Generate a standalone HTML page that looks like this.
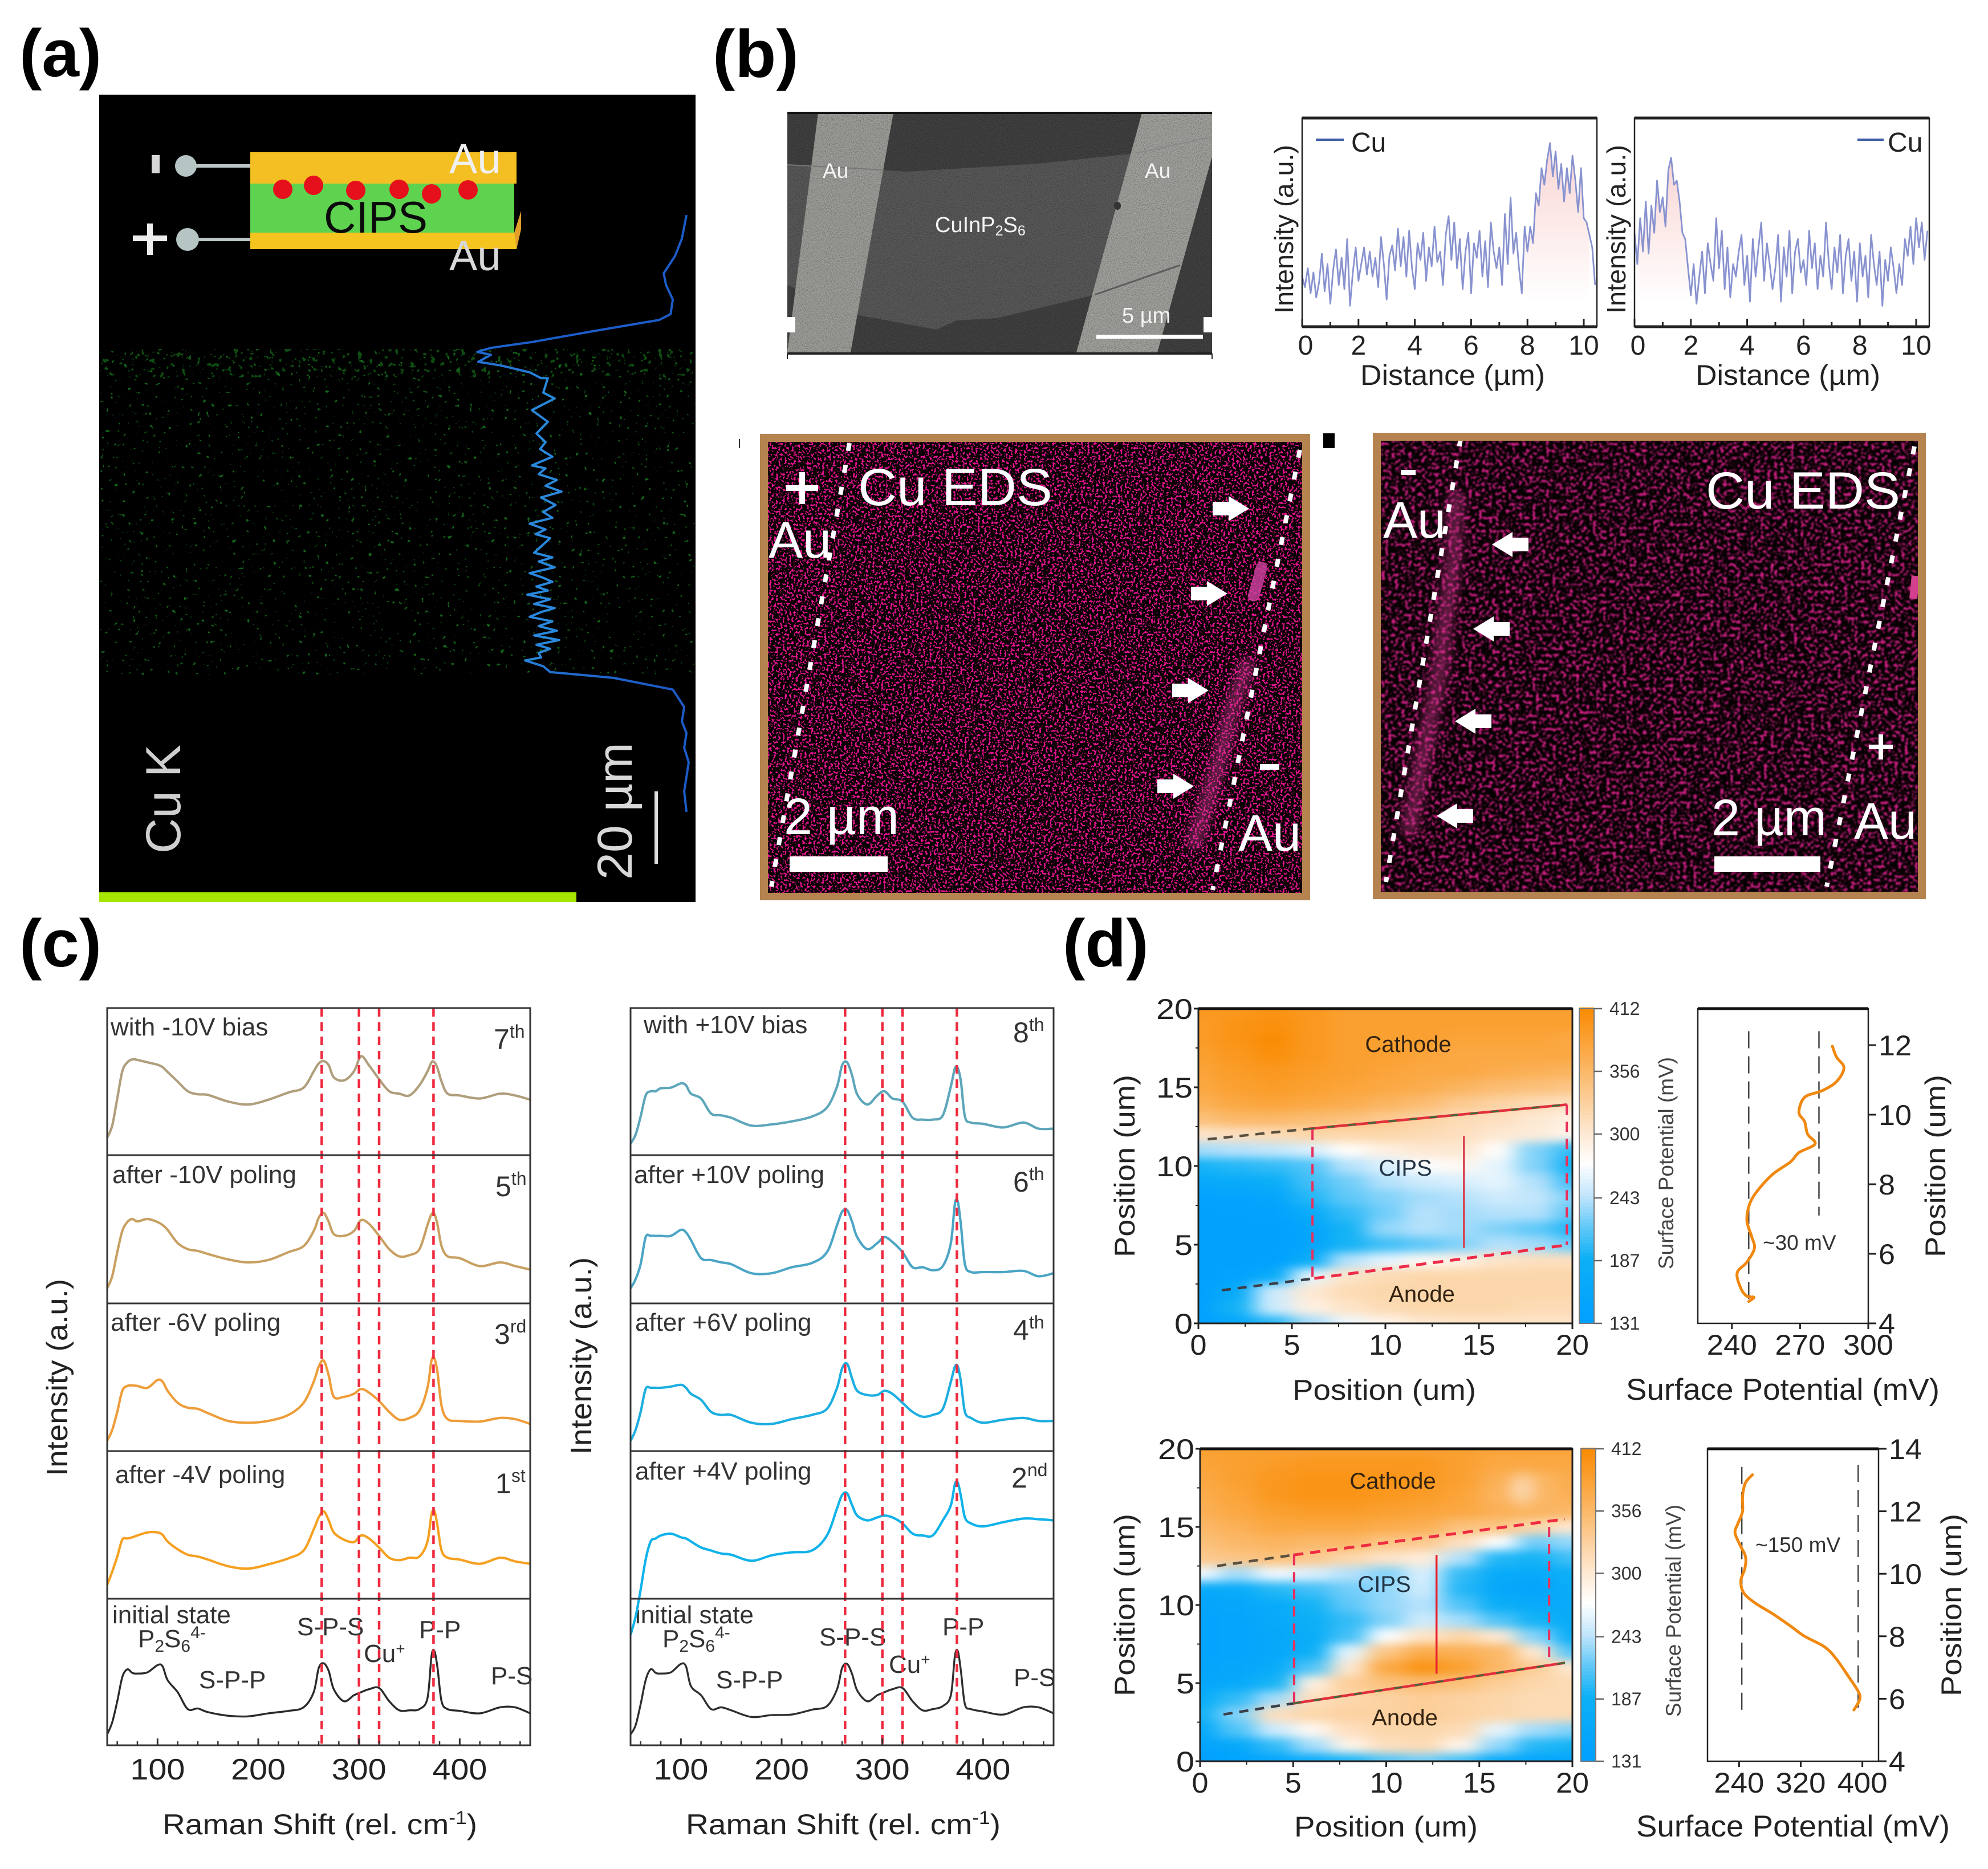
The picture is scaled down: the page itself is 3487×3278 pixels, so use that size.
<!DOCTYPE html>
<html lang="en">
<head>
<meta charset="utf-8">
<title>CIPS copper migration figure</title>
<style>
html,body{margin:0;padding:0;background:#fff;}
svg{display:block;font-family:"Liberation Sans",sans-serif;}
</style>
</head>
<body>
<svg id="fig" xmlns="http://www.w3.org/2000/svg" width="3487" height="3278" viewBox="0 0 3487 3278">
<defs>
  <filter id="greenNoise" x="0" y="0" width="1" height="1" color-interpolation-filters="sRGB">
    <feTurbulence type="fractalNoise" baseFrequency="0.13" numOctaves="2" seed="5"/>
    <feColorMatrix values="0 0 0 0 0.08  0 0 0 0 0.4  0 0 0 0 0.1  16 0 0 0 -11.4"/>
  </filter>
  <filter id="greenNoiseDense" x="0" y="0" width="1" height="1" color-interpolation-filters="sRGB">
    <feTurbulence type="fractalNoise" baseFrequency="0.11" numOctaves="2" seed="9"/>
    <feColorMatrix values="0 0 0 0 0.1  0 0 0 0 0.5  0 0 0 0 0.12  14 0 0 0 -8.9"/>
  </filter>
  <filter id="pinkNoiseSharp" x="0" y="0" width="1" height="1" color-interpolation-filters="sRGB">
    <feTurbulence type="fractalNoise" baseFrequency="0.26" numOctaves="2" seed="3"/>
    <feColorMatrix values="0 0 0 0 0.9  0 0 0 0 0.08  0 0 0 0 0.56  14 0 0 0 -7.55"/>
  </filter>
  <filter id="pinkNoiseSoft" x="0" y="0" width="1" height="1" color-interpolation-filters="sRGB">
    <feTurbulence type="fractalNoise" baseFrequency="0.17" numOctaves="2" seed="11"/>
    <feColorMatrix values="0 0 0 0 0.82  0 0 0 0 0.12  0 0 0 0 0.52  7 0 0 0 -3.65"/>
    <feGaussianBlur stdDeviation="1.2"/>
  </filter>
  <filter id="semNoise" x="0" y="0" width="1" height="1" color-interpolation-filters="sRGB">
    <feTurbulence type="fractalNoise" baseFrequency="0.55" numOctaves="2" seed="7"/>
    <feColorMatrix values="0 0 0 0 0  0 0 0 0 0  0 0 0 0 0  2.2 0 0 0 -0.9"/>
  </filter>
  <filter id="band" x="-30%" y="-10%" width="160%" height="120%"><feGaussianBlur stdDeviation="9"/></filter>
  <filter id="heatBlur" filterUnits="userSpaceOnUse" x="2000" y="1700" width="900" height="1450" color-interpolation-filters="sRGB"><feGaussianBlur stdDeviation="19 8"/></filter>
  <filter id="spotBlur" x="-60%" y="-60%" width="220%" height="220%"><feGaussianBlur stdDeviation="12"/></filter>
  <linearGradient id="profileStroke" gradientUnits="userSpaceOnUse" x1="0" y1="600" x2="0" y2="1200">
    <stop offset="0" stop-color="#1c5cc8"/><stop offset="0.12" stop-color="#2a88dc"/><stop offset="0.92" stop-color="#2a88dc"/><stop offset="1" stop-color="#1c5cc8"/>
  </linearGradient>
  <linearGradient id="peakFill" x1="0" y1="0" x2="0" y2="1">
    <stop offset="0" stop-color="#f6c6c6"/><stop offset="0.55" stop-color="#fbe6e4"/><stop offset="1" stop-color="#ffffff"/>
  </linearGradient>
  <clipPath id="clipA"><rect x="174" y="166" width="1046" height="1416"/></clipPath>
  <clipPath id="clipRamanL"><rect x="188" y="1768" width="742" height="1293"/></clipPath>
  <clipPath id="clipRamanR"><rect x="1106" y="1768" width="742" height="1293"/></clipPath>
  <clipPath id="clipHeatTop"><rect x="2102" y="1769" width="656" height="552"/></clipPath>
  <clipPath id="clipHeatBottom"><rect x="2105" y="2541" width="653" height="548"/></clipPath>
  <clipPath id="clipEds1"><rect x="1347" y="775" width="937" height="791"/></clipPath>
  <clipPath id="clipEds2"><rect x="2422" y="773" width="942" height="791"/></clipPath>
</defs>

<rect width="3487" height="3278" fill="#ffffff"/>

<!-- panel letters -->
<g font-weight="700" font-size="118" fill="#000">
  <text x="34" y="134">(a)</text>
  <text x="1250" y="135">(b)</text>
  <text x="34" y="1695">(c)</text>
  <text x="1864" y="1695">(d)</text>
</g>

<!-- panel a -->
<g id="panelA">
  <rect x="174" y="166" width="1046" height="1416" fill="#000"/>
  <rect x="176" y="612" width="1042" height="572" filter="url(#greenNoise)"/>
  <rect x="176" y="612" width="1042" height="50" filter="url(#greenNoiseDense)" opacity="0.6"/>
  <rect x="174" y="1565" width="837" height="17" fill="#a6e600"/>
  <g>
    <rect x="439" y="267" width="467" height="55" fill="#f4bf22"/>
    <rect x="439" y="322" width="463" height="87" fill="#5ed34f"/>
    <rect x="439" y="408" width="467" height="29" fill="#f6c41e"/>
    <polygon points="902,408 914,370 914,402 906,437" fill="#e0a02a"/>
    <line x1="326" y1="291" x2="439" y2="291" stroke="#bcc6c6" stroke-width="6"/>
    <line x1="330" y1="420" x2="439" y2="420" stroke="#bcc6c6" stroke-width="6"/>
    <circle cx="326" cy="291" r="19" fill="#b6c4c4"/>
    <circle cx="329" cy="420" r="20" fill="#b6c4c4"/>
    <rect x="266" y="272" width="14" height="32" fill="#d8d8d8"/>
    <rect x="233" y="413" width="60" height="10" fill="#eee"/>
    <rect x="258" y="392" width="10" height="55" fill="#eee"/>
    <g fill="#e6101c">
      <circle cx="496" cy="332" r="17"/>
      <circle cx="550" cy="325" r="17"/>
      <circle cx="624" cy="334" r="17"/>
      <circle cx="700" cy="332" r="17"/>
      <circle cx="757" cy="340" r="17"/>
      <circle cx="821" cy="333" r="17"/>
    </g>
    <text x="568" y="408" font-size="78" fill="#0a0a0a">CIPS</text>
    <text x="788" y="304" font-size="74" fill="#f0f0f0">Au</text>
    <text x="788" y="474" font-size="74" fill="#d8d8d8">Au</text>
  </g>
  <text transform="translate(316,1497) rotate(-90)" font-size="86" fill="#cfcfcf">Cu K</text>
  <text transform="translate(1108,1543) rotate(-90)" font-size="86" fill="#d8d8d8">20 µm</text>
  <rect x="1148" y="1388" width="6" height="127" fill="#dcdcdc"/>
</g>

<!-- panel b SEM -->
<g>
  <rect x="1381" y="198" width="745" height="420" fill="#404040"/>
  <polygon points="1381,289 1592,301 1821,287 1992,269 1920,517 1749,558 1678,562 1642,578 1507,553 1381,500" fill="#585858"/>
  <polygon points="1435,198 1567,198 1492,618 1381,618" fill="#9c9c98"/>
  <polygon points="2003,198 2126,198 2126,275 2030,618 1888,618" fill="#a0a09c"/>
  <rect x="1381" y="198" width="745" height="420" filter="url(#semNoise)" opacity="0.3"/>
  <line x1="1381" y1="289" x2="1550" y2="298" stroke="#777" stroke-width="2"/>
  <line x1="1992" y1="269" x2="2126" y2="240" stroke="#888" stroke-width="2"/>
  <line x1="1920" y1="517" x2="2070" y2="465" stroke="#5c5c5c" stroke-width="3"/>
  <line x1="1381" y1="198" x2="2126" y2="198" stroke="#111" stroke-width="4"/>
  <line x1="1381" y1="620" x2="2126" y2="620" stroke="#222" stroke-width="4"/>
  <line x1="1381" y1="620" x2="1381" y2="630" stroke="#222" stroke-width="2"/>
  <line x1="2126" y1="620" x2="2126" y2="630" stroke="#222" stroke-width="2"/>
  <rect x="1381" y="556" width="14" height="27" fill="#fff"/>
  <rect x="2111" y="556" width="15" height="27" fill="#fff"/>
  <ellipse cx="1960" cy="361" rx="6" ry="7" fill="#333"/>
  <text x="1443" y="312" font-size="37" fill="#f4f4f4">Au</text>
  <text x="2008" y="312" font-size="37" fill="#f4f4f4">Au</text>
  <text x="1640" y="407" font-size="38" fill="#f4f4f4">CuInP<tspan font-size="25" dy="6">2</tspan><tspan dy="-6">S</tspan><tspan font-size="25" dy="6">6</tspan></text>
  <text x="1968" y="566" font-size="38" fill="#f4f4f4">5 µm</text>
  <rect x="1923" y="587" width="187" height="7" fill="#fff"/>
</g>

<!-- panel b EDS 1 -->
<g>
  <rect x="1333" y="761" width="965" height="818" fill="#b5834f"/>
  <rect x="1347" y="775" width="937" height="791" fill="#000"/>
  <rect x="1347" y="775" width="937" height="791" filter="url(#pinkNoiseSharp)"/>
  <g clip-path="url(#clipEds1)">
    <polyline points="2191,1156 2163,1237 2134,1351 2092,1489" fill="none" stroke="#de3f9c" stroke-width="30" opacity="0.45" filter="url(#band)"/>
    <polyline points="2213,995 2199,1045" fill="none" stroke="#c8409a" stroke-width="20" stroke-linecap="round" opacity="0.85"/>
    <line x1="1490" y1="777" x2="1353" y2="1555" stroke="#fff" stroke-width="8" stroke-dasharray="14 25"/>
    <line x1="2280" y1="789" x2="2127" y2="1561" stroke="#fff" stroke-width="8" stroke-dasharray="14 25"/>
  </g>
  <g fill="#fff">
    <polygon transform="translate(2191,892)" points="0,0 -36,-22 -36,-12 -64,-12 -64,12 -36,12 -36,22"/>
    <polygon transform="translate(2153,1041)" points="0,0 -36,-22 -36,-12 -64,-12 -64,12 -36,12 -36,22"/>
    <polygon transform="translate(2120,1211)" points="0,0 -36,-22 -36,-12 -64,-12 -64,12 -36,12 -36,22"/>
    <polygon transform="translate(2094,1379)" points="0,0 -36,-22 -36,-12 -64,-12 -64,12 -36,12 -36,22"/>
  </g>
  <text x="1505" y="886" font-size="92" fill="#fff" textLength="341" lengthAdjust="spacingAndGlyphs">Cu EDS</text>
  <rect x="1379" y="851" width="56" height="10" fill="#fff"/>
  <rect x="1402" y="828" width="10" height="56" fill="#fff"/>
  <text x="1348" y="978" font-size="90" fill="#fff">Au</text>
  <text x="1375" y="1463" font-size="90" fill="#fff">2 µm</text>
  <rect x="1385" y="1502" width="172" height="27" fill="#fff"/>
  <text x="2172" y="1492" font-size="90" fill="#fff">Au</text>
  <rect x="2210" y="1340" width="34" height="10" fill="#fff"/>
</g>

<!-- panel b EDS 2 -->
<g>
  <rect x="2408" y="759" width="970" height="818" fill="#b5834f"/>
  <rect x="2422" y="773" width="942" height="791" fill="#050002"/>
  <rect x="2422" y="773" width="942" height="791" filter="url(#pinkNoiseSoft)"/>
  <g clip-path="url(#clipEds2)">
    <polyline points="2555,864 2548,996 2534,1087 2527,1168 2491,1351 2470,1466" fill="none" stroke="#dc3c96" stroke-width="28" opacity="0.42" filter="url(#band)"/>
    <polyline points="3360,1010 3356,1050" fill="none" stroke="#d2408e" stroke-width="14"/>
    <line x1="2562" y1="769" x2="2431" y2="1547" stroke="#fff" stroke-width="8" stroke-dasharray="14 25"/>
    <line x1="3358" y1="783" x2="3204" y2="1555" stroke="#fff" stroke-width="8" stroke-dasharray="14 25"/>
  </g>
  <g fill="#fff">
    <polygon transform="translate(2617,955) scale(-1,1)" points="0,0 -36,-22 -36,-12 -64,-12 -64,12 -36,12 -36,22"/>
    <polygon transform="translate(2584,1103) scale(-1,1)" points="0,0 -36,-22 -36,-12 -64,-12 -64,12 -36,12 -36,22"/>
    <polygon transform="translate(2552,1265) scale(-1,1)" points="0,0 -36,-22 -36,-12 -64,-12 -64,12 -36,12 -36,22"/>
    <polygon transform="translate(2520,1431) scale(-1,1)" points="0,0 -36,-22 -36,-12 -64,-12 -64,12 -36,12 -36,22"/>
  </g>
  <text x="2992" y="892" font-size="92" fill="#fff" textLength="341" lengthAdjust="spacingAndGlyphs">Cu EDS</text>
  <rect x="2457" y="824" width="26" height="9" fill="#fff"/>
  <text x="2426" y="943" font-size="90" fill="#fff">Au</text>
  <rect x="3278" y="1306" width="42" height="8" fill="#fff"/>
  <rect x="3295" y="1288" width="8" height="44" fill="#fff"/>
  <text x="3002" y="1465" font-size="90" fill="#fff">2 µm</text>
  <text x="3252" y="1471" font-size="90" fill="#fff">Au</text>
  <rect x="3007" y="1502" width="186" height="27" fill="#fff"/>
</g>
<rect x="2321" y="760" width="20" height="26" fill="#000"/>
<rect x="1296" y="770" width="2" height="16" fill="#333"/>

<!-- panel b line plots -->
<g id="profileLeft">
  <text transform="translate(2268,402) rotate(-90)" text-anchor="middle" font-size="46" fill="#222" textLength="296" lengthAdjust="spacingAndGlyphs">Intensity (a.u.)</text>
  <text x="2370" y="266" font-size="48" fill="#222">Cu</text>
  <text x="2548" y="675" text-anchor="middle" font-size="50" fill="#222" textLength="324" lengthAdjust="spacingAndGlyphs">Distance (µm)</text>
</g>
<g id="profileRight">
  <text transform="translate(2851,402) rotate(-90)" text-anchor="middle" font-size="46" fill="#222" textLength="296" lengthAdjust="spacingAndGlyphs">Intensity (a.u.)</text>
  <text x="3311" y="266" font-size="48" fill="#222">Cu</text>
  <text x="3136" y="675" text-anchor="middle" font-size="50" fill="#222" textLength="324" lengthAdjust="spacingAndGlyphs">Distance (µm)</text>
</g>

<!-- panel c -->
<g id="ramanLeft" fill="#333">
  <g font-size="44">
    <text x="194" y="1816">with -10V bias</text>
    <text x="197" y="2075">after -10V poling</text>
    <text x="194" y="2334">after -6V poling</text>
    <text x="202" y="2601">after -4V poling</text>
    <text x="197" y="2847">initial state</text>
    <text x="242" y="2889">P<tspan font-size="30" dy="8">2</tspan><tspan dy="-8">S</tspan><tspan font-size="30" dy="8">6</tspan><tspan font-size="30" dy="-24">4-</tspan></text>
    <text x="521" y="2868">S-P-S</text>
    <text x="638" y="2915">Cu<tspan font-size="28" dy="-14">+</tspan></text>
    <text x="735" y="2873">P-P</text>
    <text x="349" y="2961">S-P-P</text>
    <text x="861" y="2954">P-S</text>
  </g>
  <g font-size="50">
    <text x="866" y="1840">7<tspan font-size="32" dy="-20">th</tspan></text>
    <text x="869" y="2098">5<tspan font-size="32" dy="-20">th</tspan></text>
    <text x="867" y="2357">3<tspan font-size="32" dy="-20">rd</tspan></text>
    <text x="869" y="2619">1<tspan font-size="32" dy="-20">st</tspan></text>
  </g>
  <text x="285" y="3217" font-size="50" textLength="552" lengthAdjust="spacingAndGlyphs" fill="#222">Raman Shift (rel. cm<tspan font-size="32" dy="-18">-1</tspan><tspan dy="18">)</tspan></text>
  <text transform="translate(118,2416) rotate(-90)" text-anchor="middle" font-size="52" fill="#222" textLength="346" lengthAdjust="spacingAndGlyphs">Intensity (a.u.)</text>
</g>
<g id="ramanRight" fill="#333">
  <g font-size="44">
    <text x="1129" y="1812">with +10V bias</text>
    <text x="1112" y="2075">after +10V poling</text>
    <text x="1114" y="2334">after +6V poling</text>
    <text x="1114" y="2595">after +4V poling</text>
    <text x="1114" y="2847">initial state</text>
    <text x="1162" y="2889">P<tspan font-size="30" dy="8">2</tspan><tspan dy="-8">S</tspan><tspan font-size="30" dy="8">6</tspan><tspan font-size="30" dy="-24">4-</tspan></text>
    <text x="1437" y="2886">S-P-S</text>
    <text x="1559" y="2934">Cu<tspan font-size="28" dy="-14">+</tspan></text>
    <text x="1653" y="2868">P-P</text>
    <text x="1256" y="2961">S-P-P</text>
    <text x="1778" y="2957">P-S</text>
  </g>
  <g font-size="50">
    <text x="1777" y="1828">8<tspan font-size="32" dy="-20">th</tspan></text>
    <text x="1777" y="2090">6<tspan font-size="32" dy="-20">th</tspan></text>
    <text x="1777" y="2350">4<tspan font-size="32" dy="-20">th</tspan></text>
    <text x="1774" y="2609">2<tspan font-size="32" dy="-20">nd</tspan></text>
  </g>
  <text x="1203" y="3217" font-size="50" textLength="552" lengthAdjust="spacingAndGlyphs" fill="#222">Raman Shift (rel. cm<tspan font-size="32" dy="-18">-1</tspan><tspan dy="18">)</tspan></text>
  <text transform="translate(1037,2378) rotate(-90)" text-anchor="middle" font-size="52" fill="#222" textLength="346" lengthAdjust="spacingAndGlyphs">Intensity (a.u.)</text>
</g>

<!-- panel d -->
<g id="heatTop"></g>
<g id="heatTopText" fill="#222">
  <text x="2470" y="1845" text-anchor="middle" font-size="40" fill="#332211">Cathode</text>
  <text x="2465" y="2062" text-anchor="middle" font-size="40" fill="#223344">CIPS</text>
  <text x="2494" y="2283" text-anchor="middle" font-size="40" fill="#332211">Anode</text>
  <text x="2428" y="2455" text-anchor="middle" font-size="50" textLength="322" lengthAdjust="spacingAndGlyphs">Position (um)</text>
  <text transform="translate(1990,2045) rotate(-90)" text-anchor="middle" font-size="50" textLength="320" lengthAdjust="spacingAndGlyphs">Position (um)</text>
  <text transform="translate(2935,2040) rotate(-90)" text-anchor="middle" font-size="37" fill="#444">Surface Potential (mV)</text>
  <text x="3127" y="2455" text-anchor="middle" font-size="53" textLength="550" lengthAdjust="spacingAndGlyphs">Surface Potential (mV)</text>
  <text transform="translate(3412,2045) rotate(-90)" text-anchor="middle" font-size="50" textLength="320" lengthAdjust="spacingAndGlyphs">Position (um)</text>
  <text x="3092" y="2192" font-size="37" fill="#333">~30 mV</text>
</g>
<g id="heatBottom"></g>
<g id="heatBottomText" fill="#222">
  <text x="2443" y="2611" text-anchor="middle" font-size="40" fill="#332211">Cathode</text>
  <text x="2428" y="2792" text-anchor="middle" font-size="40" fill="#223344">CIPS</text>
  <text x="2464" y="3026" text-anchor="middle" font-size="40" fill="#332211">Anode</text>
  <text x="2431" y="3221" text-anchor="middle" font-size="50" textLength="322" lengthAdjust="spacingAndGlyphs">Position (um)</text>
  <text transform="translate(1990,2815) rotate(-90)" text-anchor="middle" font-size="50" textLength="320" lengthAdjust="spacingAndGlyphs">Position (um)</text>
  <text transform="translate(2948,2825) rotate(-90)" text-anchor="middle" font-size="37" fill="#444">Surface Potential (mV)</text>
  <text x="3145" y="3221" text-anchor="middle" font-size="53" textLength="550" lengthAdjust="spacingAndGlyphs">Surface Potential (mV)</text>
  <text transform="translate(3440,2815) rotate(-90)" text-anchor="middle" font-size="50" textLength="320" lengthAdjust="spacingAndGlyphs">Position (um)</text>
  <text x="3079" y="2722" font-size="37" fill="#333">~150 mV</text>
</g>

<script>
/* ---------- panel a: Cu line profile ---------- */
const profileCounts = [1510,1500,1485,1460,1465,1480,1475,1450,1300,1170,1080,1050,1080,1052,1100,1165,1190,1205,1195,1220,1170,1205,1180,1200,1188,1215,1170,1200,1185,1225,1200,1235,1190,1222,1195,1215,1165,1200,1178,1210,1175,1215,1185,1220,1165,1195,1215,1180,1205,1160,1210,1175,1220,1190,1165,1215,1185,1225,1175,1230,1180,1210,1185,1190,1155,1195,1210,1350,1480,1505,1500,1510,1505,1515,1505,1510];
const profileDepth = [370,410,440,470,490,515,540,550,570,588,598,605,610,622,628,640,650,650,675,685,705,725,745,760,772,785,800,805,815,825,835,845,855,868,880,890,900,910,918,925,950,958,965,975,985,993,1000,1008,1015,1022,1030,1038,1045,1052,1060,1068,1076,1084,1092,1100,1108,1115,1122,1130,1135,1145,1155,1165,1185,1215,1240,1260,1285,1310,1360,1395];

/* ---------- panel b: EDS line scans ---------- */
const scanLeftIntensity = [24,19,28,16,26,14,21,35,17,30,11,27,37,20,33,18,42,10,26,38,22,30,38,25,36,24,33,19,43,30,13,34,39,27,47,29,43,24,46,28,18,40,32,45,22,38,29,48,31,36,20,44,53,32,50,28,42,18,36,45,16,40,33,46,24,41,19,50,36,28,38,20,54,30,62,35,45,28,16,48,36,48,40,64,58,76,68,80,88,72,84,66,78,60,76,64,82,70,55,76,52,50,44,38,20];
const scanRightIntensity = [45,30,52,36,60,35,58,45,70,55,62,48,75,81,68,70,60,45,42,28,15,30,11,24,36,16,40,30,22,52,28,46,18,38,14,30,24,36,44,20,34,12,42,24,38,50,22,40,30,18,28,44,12,38,24,46,16,36,42,26,32,20,46,28,40,18,34,24,50,30,18,38,26,44,16,34,42,22,36,12,40,24,34,14,44,30,20,36,10,32,22,38,28,16,30,20,42,34,48,30,52,38,50,32,46];
const scanTicks = [0,2,4,6,8,10];
const scanMinorTicks = [1,3,5,7,9];

/* ---------- panel c: Raman spectra ---------- */
const ramanShift = [50,55,60,65,70,75,80,90,100,105,110,120,130,140,150,170,190,210,230,245,255,260,265,270,275,285,295,302,310,320,330,340,350,360,368,372,375,378,382,388,400,420,440,455,470];
const ramanBias10Neg = [29,49,94,139,154,159,158,154,150,146,138,122,106,101,100,89,84,92,104,112,139,152,156,149,129,124,139,164,149,126,106,102,99,116,139,154,154,144,122,102,99,94,102,99,92];
const ramanPoled10Neg = [25,45,85,120,135,140,136,140,135,130,122,100,90,87,82,73,68,72,85,95,120,142,150,135,115,112,120,138,132,112,90,78,80,90,130,148,148,130,95,78,75,62,68,62,56];
const ramanPoled6Neg = [17,35,65,100,108,109,108,105,118,115,100,80,72,70,63,50,47,50,60,80,115,140,150,125,90,90,95,103,97,83,65,52,55,67,105,150,153,130,75,53,50,49,55,53,45];
const ramanPoled4Neg = [23,45,70,98,100,102,105,110,110,106,95,82,73,70,65,54,50,57,67,80,115,135,145,130,110,98,94,105,100,85,68,64,68,70,95,140,145,120,80,68,65,58,68,62,58];
const ramanInitialNeg = [18,38,73,113,126,120,119,121,133,131,108,88,60,61,55,49,48,53,57,63,88,128,136,123,93,73,83,88,93,95,73,58,58,60,78,148,156,128,73,60,57,53,63,63,53];
const ramanBias10Pos = [19,34,64,99,106,106,111,112,119,116,102,94,69,66,62,49,51,56,64,79,114,149,154,132,101,84,99,106,94,89,62,59,59,66,114,144,144,122,64,54,52,46,54,44,44];
const ramanPoled10Pos = [25,40,65,110,112,112,112,112,122,118,105,75,72,68,65,50,50,60,67,85,130,152,155,135,110,90,100,110,102,85,60,60,55,62,100,165,168,130,65,52,52,52,54,45,50];
const ramanPoled6Pos = [17,35,65,103,105,105,105,107,110,105,95,85,65,60,60,47,45,53,60,70,105,137,145,120,100,93,93,100,95,80,65,57,60,70,115,140,140,115,65,55,47,52,55,50,50];
const ramanPoled4Pos = [-60,-30,15,65,95,100,105,108,102,100,95,85,80,75,73,63,72,77,80,105,150,172,175,155,138,130,135,138,135,125,108,105,105,130,155,190,192,170,135,125,120,127,133,132,130];
const ramanInitialPos = [18,33,68,108,126,120,119,121,135,131,98,83,60,63,58,47,50,51,59,65,93,128,135,118,91,73,83,88,93,95,73,58,60,65,83,148,156,123,68,60,56,51,63,63,53];
const ramanMarkers = [263,300,320,374];
const ramanTicks = [100,200,300,400];
const ramanMinorTicks = [60,80,120,140,160,180,220,240,260,280,320,340,360,380,420,440,460];

/* ---------- panel d: potential maps (mV), columns 0..20 um, rows 20..0 um ---------- */
const mapColumns = [0,2,4,6,8,10,12,14,16,18,20];
const mapRows = [20,19,18,17,16,15,14,13,12,11,10,9,8,7,6,5,4,3,2,1,0];
const mapTop = [
[395,395,400,395,385,385,385,385,385,385,385],
[390,400,405,395,385,385,385,385,385,385,385],
[390,400,410,395,385,385,385,380,380,380,375],
[385,395,405,395,385,385,380,375,375,375,375],
[380,390,395,390,385,380,375,375,370,365,360],
[375,385,390,385,380,375,370,360,350,345,340],
[365,375,380,375,370,360,350,335,325,315,310],
[345,355,355,350,345,335,325,315,310,300,290],
[305,310,315,320,320,320,315,310,300,295,285],
[235,240,245,255,275,290,300,300,275,225,200],
[190,195,200,210,240,255,270,280,260,225,190],
[165,170,180,205,220,240,250,255,260,240,205],
[140,145,150,195,215,225,235,240,250,245,225],
[135,135,140,170,200,220,240,235,240,240,215],
[135,135,135,150,190,230,240,235,225,215,195],
[135,135,135,150,190,205,215,225,240,235,220],
[135,135,135,175,240,260,280,290,305,310,310],
[135,140,170,260,305,315,320,320,320,320,320],
[135,165,250,300,315,320,320,320,320,320,320],
[135,190,250,290,305,315,320,320,320,315,315],
[135,155,195,235,265,285,300,305,305,305,305]];
const mapBottom = [
[385,385,385,385,385,385,385,385,380,380,380],
[380,385,390,395,395,395,395,385,375,375,375],
[375,385,395,400,400,400,395,385,365,355,370],
[370,380,395,400,400,395,390,380,360,355,365],
[365,375,385,390,390,385,380,375,365,360,355],
[355,365,375,375,375,370,365,345,340,320,300],
[345,355,360,355,355,340,335,310,270,220,230],
[335,340,345,335,320,305,295,240,195,190,205],
[265,235,265,255,240,225,255,200,170,165,185],
[165,170,195,205,220,230,250,195,160,150,175],
[150,155,170,190,215,230,240,210,180,170,170],
[145,150,165,185,200,225,250,235,210,190,170],
[145,150,160,175,205,270,305,320,300,225,175],
[145,150,160,185,260,340,370,365,355,300,210],
[150,155,170,210,300,375,400,385,355,330,300],
[155,165,190,290,330,345,350,345,330,320,315],
[175,200,235,310,320,325,330,325,320,315,315],
[190,225,310,320,325,325,330,325,320,315,315],
[165,210,250,280,310,320,320,315,260,235,225],
[145,160,200,235,285,310,315,285,230,195,190],
[125,140,150,170,190,210,220,205,165,150,150]];
const mapTicks = [0,5,10,15,20];
const mapMinorTicks = [2.5,7.5,12.5,17.5];
const colorbarTicks = [412,356,300,243,187,131];
const colormapValues = [131,187,215,243,272,300,356,412];
const colormapColors = ['#00a0ff','#0cb0f6','#60c8f8','#bfe4fb','#ffffff','#fde8d2','#fbb766','#fa8a00'];

const topUpperDarkX = [0.5,5.8];
const topUpperDarkY = [11.7,12.35];
const topUpperX = [5.8,19.7];
const topUpperY = [12.35,13.9];
const topLowerDarkX = [1.25,6.2];
const topLowerDarkY = [2.1,2.86];
const topLowerX = [6.2,19.6];
const topLowerY = [2.86,4.96];
const topSideX = [6.1,19.7];
const topSideHigh = [12.3,13.9];
const topSideLow = [2.9,5.0];
const topScanX = 14.2;
const topScanY = [11.9,4.8];

const bottomUpperDarkX = [0.92,5.0];
const bottomUpperDarkY = [12.5,13.2];
const bottomUpperX = [5.0,19.6];
const bottomUpperY = [13.2,15.5];
const bottomLowerDarkX = [1.26,5.0];
const bottomLowerDarkY = [3.0,3.7];
const bottomLowerX = [5.0,19.6];
const bottomLowerY = [3.7,6.3];
const bottomSideX = [5.05,18.75];
const bottomSideHigh = [13.2,15.0];
const bottomSideLow = [3.7,6.1];
const bottomScanX = 12.7;
const bottomScanY = [13.2,5.6];

/* ---------- panel d: potential line scans ---------- */
const lineTopPotential = [284.2,286,289.3,286,279.7,272,269.5,272,273.3,276.6,269.5,265.7,258,251.7,247.9,246.6,248.6,249.9,246.6,242.3,244,246.6,249.7,247.4];
const lineTopPosition = [11.97,11.66,11.35,10.95,10.69,10.5,10.07,9.8,9.44,9.16,8.91,8.64,8.29,7.85,7.45,6.96,6.51,6.16,5.76,5.45,5,4.78,4.75,4.63];
const lineBottomPotential = [257.3,248.3,244.5,244.5,238.5,234.7,240.8,248.3,247.5,242.3,246,261,283.6,306,325,351,366,381,395,396.4,389];
const lineBottomPosition = [13.17,12.91,12.48,12,11.61,11.32,10.94,10.55,10.17,9.78,9.39,9.06,8.72,8.34,8,7.66,7.28,6.75,6.22,5.97,5.64];
const lineTopGuides = [247.4,278.3];
const lineTopGuideHigh = [12.4,12.4];
const lineTopGuideLow = [4.7,7.1];
const lineBottomGuides = [243.5,394.6];
const lineBottomGuideHigh = [13.42,13.49];
const lineBottomGuideLow = [5.49,5.64];
const lineTopXTicks = [240,270,300];
const lineTopYTicks = [4,6,8,10,12];
const lineBottomXTicks = [240,320,400];
const lineBottomYTicks = [4,6,8,10,12,14];

const NS = 'http://www.w3.org/2000/svg';
const fig = document.getElementById('fig');

function make(tag, attrs, parent) {
  const node = document.createElementNS(NS, tag);
  for (const k in attrs) node.setAttribute(k, attrs[k]);
  parent.appendChild(node);
  return node;
}
function linear(d0, d1, r0, r1) {
  return v => r0 + (v - d0) * (r1 - r0) / (d1 - d0);
}
function pathFrom(xs, ys, sx, sy) {
  return xs.map((v, i) => (i ? 'L' : 'M') + sx(v).toFixed(1) + ' ' + sy(ys[i]).toFixed(1)).join('');
}
function smoothPath(xs, ys, sx, sy) {
  const px = xs.map(sx);
  const py = ys.map(sy);
  let d = 'M' + px[0].toFixed(1) + ' ' + py[0].toFixed(1);
  for (let i = 0; i < px.length - 1; i++) {
    const a = Math.max(i - 1, 0);
    const b = Math.min(i + 2, px.length - 1);
    const c1x = px[i] + (px[i + 1] - px[a]) / 6;
    const c1y = py[i] + (py[i + 1] - py[a]) / 6;
    const c2x = px[i + 1] - (px[b] - px[i]) / 6;
    const c2y = py[i + 1] - (py[b] - py[i]) / 6;
    d += 'C' + c1x.toFixed(1) + ' ' + c1y.toFixed(1) + ' ' + c2x.toFixed(1) + ' ' + c2y.toFixed(1) + ' ' + px[i + 1].toFixed(1) + ' ' + py[i + 1].toFixed(1);
  }
  return d;
}
function hexRgb(h) {
  return [parseInt(h.slice(1,3),16), parseInt(h.slice(3,5),16), parseInt(h.slice(5,7),16)];
}
function colormap(v) {
  if (v <= colormapValues[0]) return colormapColors[0];
  for (let i = 1; i < colormapValues.length; i++) {
    if (v <= colormapValues[i]) {
      const t = (v - colormapValues[i-1]) / (colormapValues[i] - colormapValues[i-1]);
      const a = hexRgb(colormapColors[i-1]);
      const b = hexRgb(colormapColors[i]);
      return 'rgb(' + a.map((c, k) => Math.round(c + (b[k] - c) * t)).join(',') + ')';
    }
  }
  return colormapColors[colormapColors.length - 1];
}
function tickV(parent, x, y0, y1, width, color) {
  const t = make('line', {x1: x, x2: x, y1: y0, y2: y1, stroke: color, 'stroke-width': width}, parent);
  
  
}
function tickH(parent, y, x0, x1, width, color) {
  const t = make('line', {x1: x0, x2: x1, y1: y, y2: y, stroke: color, 'stroke-width': width}, parent);
  
  
}
function label(parent, str, x, y, size, anchor, fill, name, len) {
  const t = make('text', {x: x, y: y, 'font-size': size, 'text-anchor': anchor, fill: fill}, parent);
  t.textContent = str;
  if (len) {
    t.setAttribute('textLength', len);
    t.setAttribute('lengthAdjust', 'spacingAndGlyphs');
  }
  
  
  return t;
}

/* panel a profile */
(function () {
  const sx = linear(218, 1530, 174, 1220);
  const sy = linear(163, 1550, 166, 1582);
  const wrap = make('g', {'clip-path': 'url(#clipA)'}, document.getElementById('panelA'));
  
  
  const line = make('path', {d: pathFrom(profileCounts, profileDepth, sx, sy), fill: 'none', stroke: 'url(#profileStroke)', 'stroke-width': 4, 'stroke-linejoin': 'round'}, wrap);
  
  
})();

/* panel b line scans */
function drawScan(groupId, values, x0, peakFrom, peakTo, legendX0, legendX1) {
  const g = document.getElementById(groupId);
  const W = 517, top = 207, bottom = 573;
  const sx = linear(0, 1, x0, x0 + 49.4);
  const sy = linear(0, 100, bottom, top);
  const xs = values.map((v, i) => i / 10);
  const idx = xs.map((v, i) => i).filter(i => xs[i] >= peakFrom && xs[i] <= peakTo);
  const peakX = idx.map(i => xs[i]);
  const peakY = idx.map(i => values[i]);
  const area = make('path', {d: pathFrom(peakX, peakY, sx, sy) + 'L' + sx(peakTo) + ' ' + sy(12) + 'L' + sx(peakFrom) + ' ' + sy(12) + 'Z', fill: 'url(#peakFill)', opacity: 0.75}, g);
  
  
  const line = make('path', {d: pathFrom(xs, values, sx, sy), fill: 'none', stroke: '#8892cf', 'stroke-width': 2.8, 'stroke-linejoin': 'round'}, g);
  
  
  const frame = make('rect', {x: x0, y: top, width: W, height: bottom - top, fill: 'none', stroke: '#222', 'stroke-width': 2.5}, g);
  
  
  tickH(g, top, x0, x0 + W, 5, '#222');
  tickH(g, bottom, x0, x0 + W, 5, '#222');
  scanTicks.forEach(v => {
    tickV(g, sx(v), bottom, bottom - 14, 3, '#222');
    label(g, String(v), sx(v) + (v === 0 ? 6 : 0), 622, 48, 'middle', '#222', 'x-tick-label');
  });
  scanMinorTicks.forEach(v => tickV(g, sx(v), bottom, bottom - 8, 3, '#222'));
  const key = make('line', {x1: legendX0, x2: legendX1, y1: 245, y2: 245, stroke: '#3f5fa8', 'stroke-width': 4}, g);
  
  
}
drawScan('profileLeft', scanLeftIntensity, 2284, 7.9, 10.2, 2308, 2357);
drawScan('profileRight', scanRightIntensity, 2867, 0.1, 2.0, 3258, 3304);

/* panel c */
function drawRaman(groupId, clipId, x0, x1, series, colors, markers) {
  const g = document.getElementById(groupId);
  const sx = linear(50, 470, x0, x1);
  const edges = [1768, 2026, 2286, 2545, 2804, 3061];
  const plot = make('g', {'clip-path': 'url(#' + clipId + ')'}, g);
  
  
  series.forEach((vals, i) => {
    const base = edges[i + 1];
    const sy = linear(0, 245, base, base - 259);
    const sp = make('path', {d: smoothPath(ramanShift, vals, sx, sy), fill: 'none', stroke: colors[i], 'stroke-width': i === 4 ? 3.4 : 4.2, 'stroke-linejoin': 'round'}, plot);
    
    
  });
  markers.forEach(m => {
    const mk = make('line', {x1: sx(m), x2: sx(m), y1: 1768, y2: 3061, stroke: '#ee2b40', 'stroke-width': 4.5, 'stroke-dasharray': '15 10'}, plot);
    
    
  });
  const frame = make('rect', {x: x0, y: 1768, width: x1 - x0, height: 1293, fill: 'none', stroke: '#333', 'stroke-width': 3}, g);
  
  
  edges.slice(1, 5).forEach(y => tickH(g, y, x0, x1, 3, '#333'));
  ramanTicks.forEach(v => {
    tickV(g, sx(v), 3061, 3049, 3, '#333');
    label(g, String(v), sx(v), 3121, 52, 'middle', '#222', 'x-tick-label', 96);
  });
  ramanMinorTicks.forEach(v => tickV(g, sx(v), 3061, 3054, 2.5, '#333'));
}
drawRaman('ramanLeft', 'clipRamanL', 188, 930,
  [ramanBias10Neg, ramanPoled10Neg, ramanPoled6Neg, ramanPoled4Neg, ramanInitialNeg],
  ['#b09e7c', '#c8a062', '#ee9d3a', '#f5a021', '#2a2a2a'], ramanMarkers);
drawRaman('ramanRight', 'clipRamanR', 1106, 1848,
  [ramanBias10Pos, ramanPoled10Pos, ramanPoled6Pos, ramanPoled4Pos, ramanInitialPos],
  ['#5da6ba', '#4ba5c5', '#1caee0', '#10b2ea', '#2f2f2f'], ramanMarkers);

/* panel d maps */
function drawMap(cfg) {
  const g = document.getElementById(cfg.group);
  const sx = linear(0, 20, cfg.x0, cfg.x1);
  const sy = linear(0, 20, cfg.y1, cfg.y0);
  const clip = make('g', {'clip-path': 'url(#' + cfg.clip + ')'}, g);
  
  
  const blur = make('g', {filter: 'url(#heatBlur)', 'shape-rendering': 'crispEdges'}, clip);
  
  
  cfg.grid.forEach((row, r) => {
    row.forEach((val, c) => {
      const left = c === 0 ? cfg.x0 - 80 : sx(mapColumns[c] - 1);
      const right = c === row.length - 1 ? cfg.x1 + 80 : sx(mapColumns[c] + 1);
      const top = r === 0 ? cfg.y0 - 60 : sy(mapRows[r] + 0.5);
      const bot = r === cfg.grid.length - 1 ? cfg.y1 + 60 : sy(mapRows[r] - 0.5);
      const cell = make('rect', {x: left, y: top, width: right - left + 0.6, height: bot - top + 0.6, fill: colormap(val)}, blur);
      
      
    });
  });
  if (cfg.spot) {
    const spot = make('circle', {cx: sx(cfg.spot[0]), cy: sy(cfg.spot[1]), r: 24, fill: '#fbd3a6', filter: 'url(#spotBlur)'}, clip);
    
    
  }
  function seg(xs, ys, color, width, dash, name) {
    const p = make('path', {d: pathFrom(xs, ys, sx, sy), fill: 'none', stroke: color, 'stroke-width': width}, clip);
    if (dash) p.setAttribute('stroke-dasharray', dash);
    
    
  }
  cfg.segments.forEach(s => seg(s[0], s[1], s[2], s[3], s[4], s[5]));
  const frame = make('rect', {x: cfg.x0, y: cfg.y0, width: cfg.x1 - cfg.x0, height: cfg.y1 - cfg.y0, fill: 'none', stroke: '#222', 'stroke-width': 3}, g);
  
  
  tickH(g, cfg.y0, cfg.x0, cfg.x1, 5, '#111');
  mapTicks.forEach(v => {
    tickV(g, sx(v), cfg.y1, cfg.y1 + 10, 3, '#222');
    tickH(g, sy(v), cfg.x0, cfg.x0 - 8, 3, '#222');
    label(g, String(v), sx(v), cfg.y1 + 55, 50, 'middle', '#222', 'x-tick-label', String(v).length * 29);
    label(g, String(v), cfg.x0 - 10, sy(v) + 18, 50, 'end', '#222', 'y-tick-label', String(v).length * 32);
  });
  mapMinorTicks.forEach(v => {
    tickV(g, sx(v), cfg.y1, cfg.y1 + 6, 2, '#222');
    tickH(g, sy(v), cfg.x0, cfg.x0 - 5, 2, '#222');
  });
  /* colour bar */
  const sc = linear(131, 412, cfg.y1, cfg.y0);
  for (let v = 131; v < 412; v += 3) {
    const band = make('rect', {x: cfg.cbX, y: sc(v + 3), width: 26, height: sc(v) - sc(v + 3) + 0.6, fill: colormap(v), 'shape-rendering': 'crispEdges'}, g);
    
    
  }
  const cbFrame = make('rect', {x: cfg.cbX, y: cfg.y0, width: 26, height: cfg.y1 - cfg.y0, fill: 'none', stroke: '#777', 'stroke-width': 2}, g);
  
  
  colorbarTicks.forEach(v => {
    tickH(g, sc(v), cfg.cbX + 26, cfg.cbX + 40, 2.5, '#666');
    label(g, String(v), cfg.cbX + 53, sc(v) + 11, 32, 'start', '#333', 'colorbar-tick-label');
  });
}
const redDash = '18 12';
const darkDash = '16 12';
drawMap({
  group: 'heatTop', clip: 'clipHeatTop', grid: mapTop, x0: 2102, x1: 2758, y0: 1769, y1: 2321, cbX: 2770,
  segments: [
    [topUpperDarkX, topUpperDarkY, '#5a5040', 4.5, darkDash, 'boundary-extension'],
    [topUpperX, topUpperY, '#e0303c', 4.5, null, 'cathode-boundary'],
    [topUpperX, topUpperY, '#3d6a3a', 3, '14 22', 'cathode-boundary-dash'],
    [topLowerDarkX, topLowerDarkY, '#3a3f4a', 4.5, darkDash, 'boundary-extension'],
    [topLowerX, topLowerY, '#ee2b48', 5, redDash, 'anode-boundary'],
    [[topSideX[0], topSideX[0]], [topSideHigh[0], topSideLow[0]], '#e8305c', 4, redDash, 'region-edge'],
    [[topSideX[1], topSideX[1]], [topSideHigh[1], topSideLow[1]], '#e8305c', 4, redDash, 'region-edge'],
    [[topScanX, topScanX], topScanY, '#d84050', 3.5, null, 'scan-line']
  ]
});
drawMap({
  group: 'heatBottom', clip: 'clipHeatBottom', grid: mapBottom, x0: 2105, x1: 2758, y0: 2541, y1: 3089, cbX: 2773, spot: [17.3, 17.4],
  segments: [
    [bottomUpperDarkX, bottomUpperDarkY, '#5a5040', 4.5, darkDash, 'boundary-extension'],
    [bottomUpperX, bottomUpperY, '#ee2b40', 5, redDash, 'cathode-boundary'],
    [bottomLowerDarkX, bottomLowerDarkY, '#3a3f4a', 4.5, darkDash, 'boundary-extension'],
    [bottomLowerX, bottomLowerY, '#e0303c', 4.5, null, 'anode-boundary'],
    [bottomLowerX, bottomLowerY, '#3d6a3a', 3, '14 22', 'anode-boundary-dash'],
    [[bottomSideX[0], bottomSideX[0]], [bottomSideHigh[0], bottomSideLow[0]], '#e8305c', 4, redDash, 'region-edge'],
    [[bottomSideX[1], bottomSideX[1]], [bottomSideHigh[1], bottomSideLow[1]], '#e8305c', 4, redDash, 'region-edge'],
    [[bottomScanX, bottomScanX], bottomScanY, '#e8202c', 3.5, null, 'scan-line']
  ]
});

/* panel d line scans */
function drawLine(cfg) {
  const g = document.getElementById(cfg.group);
  const sx = linear(cfg.dx[0], cfg.dx[1], cfg.x0, cfg.x1);
  const sy = linear(cfg.dy[0], cfg.dy[1], cfg.y1, cfg.y0);
  cfg.guides.forEach((v, i) => {
    const gl = make('line', {x1: sx(v), x2: sx(v), y1: sy(cfg.guideHigh[i]), y2: sy(cfg.guideLow[i]), stroke: '#444', 'stroke-width': 2.5, 'stroke-dasharray': '30 14'}, g);
    
    
  });
  const ln = make('path', {d: smoothPath(cfg.px, cfg.py, sx, sy), fill: 'none', stroke: '#f0880f', 'stroke-width': 5, 'stroke-linejoin': 'round', 'stroke-linecap': 'round'}, g);
  
  
  const frame = make('rect', {x: cfg.x0, y: cfg.y0, width: cfg.x1 - cfg.x0, height: cfg.y1 - cfg.y0, fill: 'none', stroke: '#222', 'stroke-width': 2.5}, g);
  
  
  tickH(g, cfg.y0, cfg.x0, cfg.x1, 5, '#111');
  cfg.xTicks.forEach(v => {
    tickV(g, sx(v), cfg.y1, cfg.y1 + 10, 3, '#222');
    label(g, String(v), sx(v), cfg.labelY, 50, 'middle', '#222', 'x-tick-label', 88);
  });
  cfg.yTicks.forEach(v => {
    tickH(g, sy(v), cfg.x1, cfg.x1 + 14, 3, '#222');
    label(g, String(v), cfg.x1 + 18, sy(v) + 18, 50, 'start', '#222', 'y-tick-label', String(v).length * 29);
  });
}
drawLine({group: 'heatTop', px: lineTopPotential, py: lineTopPosition, x0: 2978, x1: 3277, y0: 1769, y1: 2321, dx: [225, 300], dy: [4, 13.05], guides: lineTopGuides, guideHigh: lineTopGuideHigh, guideLow: lineTopGuideLow, xTicks: lineTopXTicks, yTicks: lineTopYTicks, labelY: 2376});
drawLine({group: 'heatBottom', px: lineBottomPotential, py: lineBottomPosition, x0: 2995, x1: 3295, y0: 2541, y1: 3089, dx: [199, 421], dy: [4, 14], guides: lineBottomGuides, guideHigh: lineBottomGuideHigh, guideLow: lineBottomGuideLow, xTicks: lineBottomXTicks, yTicks: lineBottomYTicks, labelY: 3144});
</script>
</svg>
</body>
</html>
